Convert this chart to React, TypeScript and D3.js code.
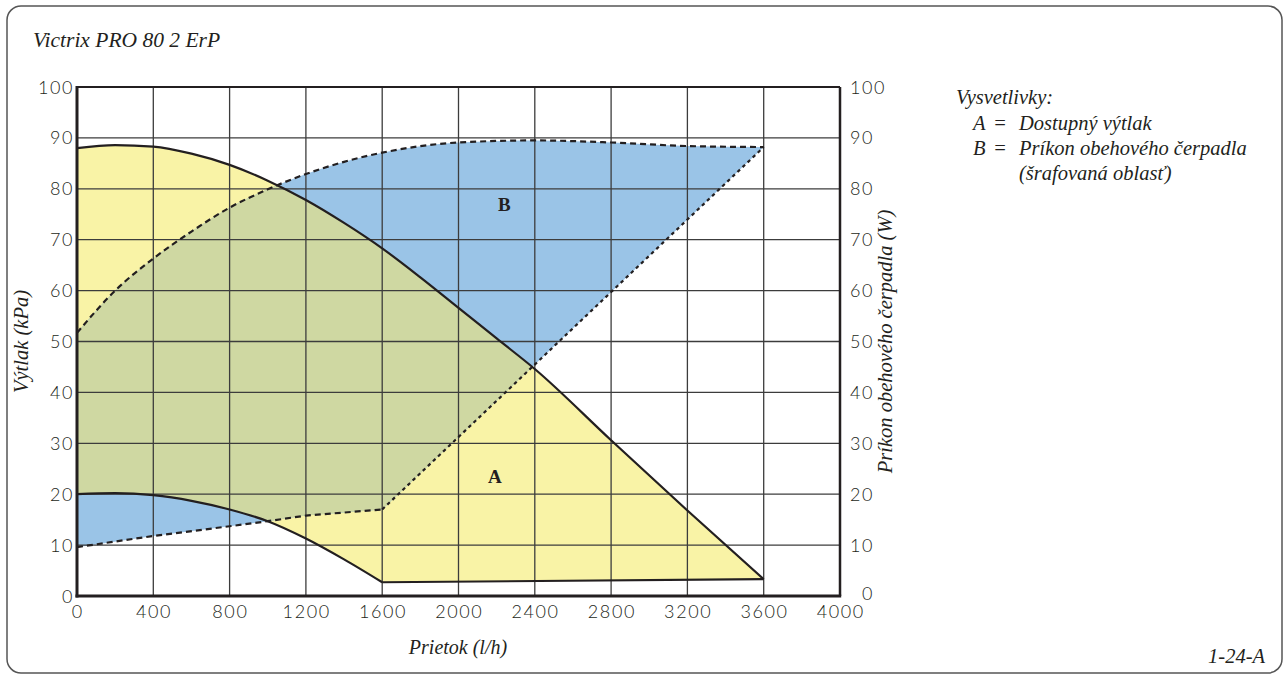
import React from "react";
import * as d3 from "d3";

// ---- data ----
const flowTicks = [0, 400, 800, 1200, 1600, 2000, 2400, 2800, 3200, 3600, 4000];
const kpaTicks = [0, 10, 20, 30, 40, 50, 60, 70, 80, 90, 100];
const wattTicks = [0, 10, 20, 30, 40, 50, 60, 70, 80, 90, 100];

// A: available head (kPa) – upper and lower pump curves
const headUpperFlow = [0, 200, 400, 600, 800, 1000, 1200, 1400, 1600, 1800, 2000, 2200, 2400, 2800, 3200, 3600];
const headUpper = [88, 88.6, 88.3, 86.9, 84.7, 81.6, 77.8, 73.3, 68.3, 62.6, 56.6, 50.6, 44.6, 30.6, 16.8, 3.3];
const headLowerFlow = [0, 200, 400, 600, 800, 1000, 1200, 1400, 1600];
const headLower = [20, 20.2, 19.8, 18.7, 17, 14.7, 11.3, 7.2, 2.7];
const headFlatFlow = [1600, 3600];
const headFlat = [2.7, 3.3];

// B: pump power input (W)
const powerUpperFlow = [0, 200, 400, 600, 800, 1000, 1200, 1400, 1600, 2000, 2400, 2800, 3200, 3600];
const powerUpper = [51.7, 60, 66.3, 71.6, 76.3, 79.9, 82.9, 85.3, 87.1, 89.1, 89.5, 89.1, 88.4, 88.2];
const powerLowerFlow = [0, 400, 800, 1000, 1200, 1600];
const powerLower = [9.6, 11.8, 13.7, 14.7, 15.8, 17];
const powerSteepFlow = [1600, 3600];
const powerSteep = [17, 88.2];

const title = "Victrix PRO 80 2 ErP";
const xTitle = "Prietok (l/h)";
const yTitle = "Výtlak (kPa)";
const y2Title = "Príkon obehového čerpadla (W)";
const legendHead = "Vysvetlivky:";
const legendRows = [
  ["A", "Dostupný výtlak"],
  ["B", "Príkon obehového čerpadla"],
];
const legendNote = "(šrafovaná oblasť)";
const code = "1-24-A";

const W = 1287;
const H = 675;
const X0 = 77, X1 = 840, Y0 = 596, Y1 = 87;

const SERIF = "'Liberation Serif', 'Times New Roman', serif";
const SANS = "Lato, 'Open Sans', sans-serif";

type P = [number, number];
const zip = (a: number[], b: number[]): P[] => a.map((v, i) => [v, b[i]]);

export default function App() {
  const x = d3.scaleLinear().domain([0, 4000]).range([X0, X1]);
  const y = d3.scaleLinear().domain([0, 100]).range([Y0, Y1]);

  const smooth = d3.line<P>().x(d => x(d[0])).y(d => y(d[1])).curve(d3.curveMonotoneX);
  const straight = d3.line<P>().x(d => x(d[0])).y(d => y(d[1]));

  const hu = zip(headUpperFlow, headUpper);
  const hl = zip(headLowerFlow, headLower);
  const hf = zip(headFlatFlow, headFlat);
  const pu = zip(powerUpperFlow, powerUpper);
  const pl = zip(powerLowerFlow, powerLower);
  const ps = zip(powerSteepFlow, powerSteep);

  const huPath = smooth(hu) as string;
  const hlPath = smooth(hl) as string;
  const hfPath = straight(hf) as string;
  const puPath = smooth(pu) as string;
  const plPath = straight(pl) as string;
  const psPath = straight(ps) as string;

  const join = (a: string, b: string) => a + "L" + b.slice(1);
  const areaA =
    join(join(huPath, straight([...hf].reverse()) as string), smooth([...hl].reverse()) as string) + "Z";
  const areaB =
    join(join(puPath, straight([...ps].reverse()) as string), straight([...pl].reverse()) as string) + "Z";

  const yellow = "#F9F3A6";
  const blue = "#9AC4E7";
  const green = "#CFD8A2";
  const ink = "#231F20";
  const grid = "#3c3c3c";

  const tickFont = { fontFamily: SANS, fontWeight: 300, fontSize: 18, letterSpacing: 1.6, fill: ink } as const;

  return (
    <svg width={W} height={H} style={{ position: "absolute", left: 0, top: 0 }}>
      <defs>
        <clipPath id="clipA">
          <path d={areaA} />
        </clipPath>
      </defs>
      <rect x={0} y={0} width={W} height={H} fill="#fff" />
      <rect x={7} y={6} width={1275} height={667} rx={14} ry={14} fill="none" stroke="#555" strokeWidth={1.5} />

      <text x={33} y={47} fontFamily={SERIF} fontStyle="italic" fontSize={21.5} fill={ink}>
        {title}
      </text>

      {/* fills */}
      <path d={areaA} fill={yellow} />
      <path d={areaB} fill={blue} />
      <path d={areaB} fill={green} clipPath="url(#clipA)" />

      {/* grid */}
      {flowTicks.slice(1, -1).map(t => (
        <line key={"vx" + t} x1={x(t)} x2={x(t)} y1={Y1} y2={Y0} stroke={grid} strokeWidth={1.3} />
      ))}
      {kpaTicks.slice(1, -1).map(t => (
        <line key={"hy" + t} x1={X0} x2={X1} y1={y(t)} y2={y(t)} stroke={grid} strokeWidth={1.3} />
      ))}

      {/* curves */}
      <path d={huPath} fill="none" stroke={ink} strokeWidth={2.2} />
      <path d={hlPath} fill="none" stroke={ink} strokeWidth={2.2} />
      <path d={hfPath} fill="none" stroke={ink} strokeWidth={2.2} />
      <path d={puPath} fill="none" stroke={ink} strokeWidth={2.2} strokeDasharray="6 4" />
      <path d={plPath} fill="none" stroke={ink} strokeWidth={2.2} strokeDasharray="6 4" />
      <path d={psPath} fill="none" stroke={ink} strokeWidth={2.2} strokeDasharray="3.5 3.5" />

      {/* frame */}
      <line x1={X0} x2={X1} y1={Y1} y2={Y1} stroke={ink} strokeWidth={2} />
      <line x1={X1} x2={X1} y1={Y1} y2={Y0} stroke={ink} strokeWidth={2.5} />
      <line x1={X0} x2={X0} y1={Y1 - 1} y2={Y0 + 1.5} stroke={ink} strokeWidth={3} />
      <line x1={X0 - 1.5} x2={X1 + 1.2} y1={Y0} y2={Y0} stroke={ink} strokeWidth={3} />

      {/* tick labels */}
      {flowTicks.map(t => (
        <text key={"xl" + t} x={x(t) + 0.8} y={618} textAnchor="middle" {...tickFont}>
          {t}
        </text>
      ))}
      {kpaTicks.map(t => (
        <text key={"yl" + t} x={X0 - 3} y={y(t) + 6.5} textAnchor="end" {...tickFont}>
          {t}
        </text>
      ))}
      {wattTicks.map(t => (
        <text key={"wl" + t} x={X1 + (t === 0 ? 22 : 10)} y={y(t) + (t === 0 ? 4 : 6.5)} textAnchor="start" {...tickFont}>
          {t}
        </text>
      ))}

      {/* axis titles */}
      <text x={458} y={654} textAnchor="middle" fontFamily={SERIF} fontStyle="italic" fontSize={20} fill={ink}>
        {xTitle}
      </text>
      <text transform={`translate(28,${(Y0 + Y1) / 2}) rotate(-90)`} textAnchor="middle" fontFamily={SERIF}
        fontStyle="italic" fontSize={20.5} fill={ink}>
        {yTitle}
      </text>
      <text transform={`translate(892,${(Y0 + Y1) / 2}) rotate(-90)`} textAnchor="middle" fontFamily={SERIF}
        fontStyle="italic" fontSize={20.5} fill={ink}>
        {y2Title}
      </text>

      {/* region labels */}
      <text x={x(2240)} y={y(76.8) + 6} textAnchor="middle" fontFamily={SERIF} fontWeight="bold" fontSize={19} fill={ink}>
        B
      </text>
      <text x={x(2190)} y={y(23.3) + 6} textAnchor="middle" fontFamily={SERIF} fontWeight="bold" fontSize={19} fill={ink}>
        A
      </text>

      {/* legend */}
      <g fontFamily={SERIF} fontStyle="italic" fontSize={20.5} fill={ink}>
        <text x={956} y={104}>{legendHead}</text>
        {legendRows.map((r, i) => (
          <g key={r[0]}>
            <text x={973} y={130 + i * 25}>{r[0]}</text>
            <text x={993} y={130 + i * 25}>=</text>
            <text x={1019} y={130 + i * 25}>{r[1]}</text>
          </g>
        ))}
        <text x={1019} y={180}>{legendNote}</text>
      </g>

      <text x={1265} y={663} textAnchor="end" fontFamily={SERIF} fontStyle="italic" fontSize={20.5} fill={ink}>
        {code}
      </text>
    </svg>
  );
}
